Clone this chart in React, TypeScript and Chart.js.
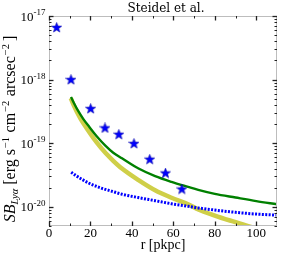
import React, { useEffect, useRef } from 'react';
import { Chart, registerables } from 'chart.js';

Chart.register(...registerables);

// Observed data (stars)
const starR = [3.7, 10.6, 20.1, 27.0, 33.7, 41.0, 48.6, 56.2, 64.1];
const starSB = [6.6e-18, 1.0e-18, 3.5e-19, 1.74e-19, 1.38e-19, 9.9e-20, 5.6e-20, 3.4e-20, 1.9e-20];

// Green solid model
const greenR = [10.6, 12, 14, 16.5, 19.3, 23, 27.3, 31, 35.2, 43.2, 51.2, 59.1, 67.1, 72, 80, 90, 100, 110];
const greenSB = [5.33e-19, 4.3e-19, 3.25e-19, 2.42e-19, 1.83e-19, 1.29e-19, 9.1e-20, 7.1e-20, 5.8e-20, 4.0e-20, 3.04e-20, 2.47e-20, 2.06e-20, 1.85e-20, 1.6e-20, 1.4e-20, 1.23e-20, 1.1e-20];

// Yellow thick model
const yellowR = [10.5, 12, 15, 19.3, 23, 27.3, 31, 35.2, 43.2, 51.2, 59.1, 67.1, 72, 80, 88, 95, 102, 110];
const yellowSB = [5.1e-19, 3.9e-19, 2.5e-19, 1.52e-19, 1.03e-19, 7.0e-20, 5.3e-20, 4.0e-20, 2.63e-20, 1.82e-20, 1.39e-20, 1.1e-20, 9.1e-21, 7.3e-21, 6.0e-21, 5.1e-21, 4.4e-21, 3.8e-21];

// Blue dotted model
const blueR = [10.7, 13, 16, 19.3, 25, 30, 35.2, 43, 51.2, 59, 67.1, 72, 80, 90, 100, 110];
const blueSB = [3.5e-20, 3.1e-20, 2.7e-20, 2.35e-20, 1.98e-20, 1.77e-20, 1.58e-20, 1.4e-20, 1.25e-20, 1.12e-20, 1.02e-20, 9.6e-21, 8.9e-21, 8.2e-21, 7.7e-21, 7.4e-21];

const xTicks = [0, 20, 40, 60, 80, 100];
const xMinorTicks = [10, 30, 50, 70, 90];
const yDecades = [-17, -18, -19, -20];
const titleText = 'Steidel et al.';
const xTitle = 'r [pkpc]';

const pts = (xs: number[], ys: number[]) => xs.map((x, i) => ({ x, y: ys[i] }));

function makeStar(): HTMLCanvasElement {
  const c = document.createElement('canvas');
  c.width = 11;
  c.height = 11;
  const g = c.getContext('2d')!;
  const cx = 5.5, cy = 5.8, R = 5.3, r = 2.2;
  g.beginPath();
  for (let i = 0; i < 10; i++) {
    const ang = -Math.PI / 2 + (i * Math.PI) / 5;
    const rad = i % 2 === 0 ? R : r;
    const px = cx + rad * Math.cos(ang);
    const py = cy + rad * Math.sin(ang);
    if (i === 0) g.moveTo(px, py);
    else g.lineTo(px, py);
  }
  g.closePath();
  g.fillStyle = '#0000ff';
  g.fill();
  g.strokeStyle = '#0000aa';
  g.lineWidth = 0.6;
  g.stroke();
  return c;
}

const decorPlugin = {
  id: 'decor',
  afterDraw(chart: any) {
    const ctx: CanvasRenderingContext2D = chart.ctx;
    const { left, right, top, bottom } = chart.chartArea;
    const xs = chart.scales.x;
    const ys = chart.scales.y;
    ctx.save();
    // frame
    ctx.strokeStyle = '#bdbdbd';
    ctx.lineWidth = 1;
    ctx.strokeRect(left + 0.5, top + 0.5, right - left - 1, bottom - top - 1);

    ctx.strokeStyle = '#222';
    const tickLine = (x1: number, y1: number, x2: number, y2: number, w: number) => {
      ctx.lineWidth = w;
      ctx.beginPath();
      ctx.moveTo(x1, y1);
      ctx.lineTo(x2, y2);
      ctx.stroke();
    };
    xTicks.forEach((v) => {
      const px = Math.round(xs.getPixelForValue(v)) + 0.5;
      tickLine(px, bottom, px, bottom - 4.5, 1.3);
      tickLine(px, top, px, top + 4.5, 1.3);
    });
    xMinorTicks.forEach((v) => {
      const px = Math.round(xs.getPixelForValue(v)) + 0.5;
      tickLine(px, bottom, px, bottom - 2.5, 1);
      tickLine(px, top, px, top + 2.5, 1);
    });
    yDecades.forEach((d) => {
      const py = Math.round(ys.getPixelForValue(Math.pow(10, d))) + 0.5;
      tickLine(left, py, left + 4.5, py, 1.3);
      tickLine(right, py, right - 4.5, py, 1.3);
    });
    for (let d = -21; d <= -18; d++) {
      for (let m = 2; m <= 9; m++) {
        const v = m * Math.pow(10, d);
        if (v < ys.min || v > ys.max) continue;
        const py = Math.round(ys.getPixelForValue(v)) + 0.5;
        tickLine(left, py, left + 2.5, py, 1);
        tickLine(right, py, right - 2.5, py, 1);
      }
    }

    // x tick labels
    ctx.fillStyle = '#000';
    ctx.font = '13px "Liberation Serif", serif';
    ctx.textAlign = 'center';
    ctx.textBaseline = 'alphabetic';
    xTicks.forEach((v) => {
      ctx.fillText(String(v), xs.getPixelForValue(v), 237);
    });

    // y tick labels 10^d
    yDecades.forEach((d) => {
      const py = ys.getPixelForValue(Math.pow(10, d));
      const exp = '-' + String(-d);
      ctx.font = '9px "Liberation Serif", serif';
      const ew = ctx.measureText(exp).width;
      ctx.textAlign = 'left';
      const xEnd = 45.5;
      ctx.fillText(exp, xEnd - ew, py - 1);
      ctx.font = '13px "Liberation Serif", serif';
      const bw = ctx.measureText('10').width;
      ctx.fillText('10', xEnd - ew - bw, py + 4.5);
    });

    // x title
    ctx.font = '14px "Liberation Serif", serif';
    ctx.textAlign = 'center';
    ctx.fillText(xTitle, (left + right) / 2, 249);

    // title
    ctx.font = '12px "DejaVu Serif", serif';
    ctx.fillText(titleText, 166, 12);

    // y title with sub/superscripts
    const runs: { t: string; f: string; dy: number; gap: number }[] = [
      { t: 'SB', f: 'italic 16px "Liberation Serif", serif', dy: 0, gap: 0 },
      { t: 'Lyα', f: 'italic 10.5px "Liberation Serif", serif', dy: 3, gap: 0 },
      { t: '[erg s', f: '16px "Liberation Serif", serif', dy: 0, gap: 4 },
      { t: '−1', f: '10.5px "Liberation Serif", serif', dy: -6.5, gap: 1 },
      { t: 'cm', f: '16px "Liberation Serif", serif', dy: 0, gap: 4.5 },
      { t: '−2', f: '10.5px "Liberation Serif", serif', dy: -6.5, gap: 1 },
      { t: 'arcsec', f: '16px "Liberation Serif", serif', dy: 0, gap: 4.5 },
      { t: '−2', f: '10.5px "Liberation Serif", serif', dy: -6.5, gap: 1 },
      { t: ']', f: '16px "Liberation Serif", serif', dy: 0, gap: 3 },
    ];
    let total = 0;
    const widths = runs.map((r) => {
      ctx.font = r.f;
      const w = ctx.measureText(r.t).width;
      total += r.gap + w;
      return w;
    });
    ctx.translate(15, 129);
    ctx.rotate(-Math.PI / 2);
    ctx.textAlign = 'left';
    let cx = -total / 2;
    runs.forEach((r, i) => {
      cx += r.gap;
      ctx.font = r.f;
      ctx.fillText(r.t, cx, r.dy);
      cx += widths[i];
    });
    ctx.restore();
  },
};

export default function App() {
  const ref = useRef<HTMLCanvasElement | null>(null);
  useEffect(() => {
    if (!ref.current) return;
    const star = makeStar();
    const chart = new Chart(ref.current, {
      type: 'line',
      data: {
        datasets: [
          {
            data: pts(starR, starSB),
            showLine: false,
            pointStyle: star as any,
            pointRadius: 5,
            borderColor: '#0000ff',
            backgroundColor: '#0000ff',
            order: 0,
          },
          {
            data: pts(greenR, greenSB),
            borderColor: '#008000',
            borderWidth: 2.4,
            pointRadius: 0,
            cubicInterpolationMode: 'monotone',
            clip: 0,
            order: 1,
          },
          {
            data: pts(blueR, blueSB),
            borderColor: '#0000ff',
            borderWidth: 3,
            borderDash: [2, 1.4],
            pointRadius: 0,
            cubicInterpolationMode: 'monotone',
            clip: 0,
            order: 2,
          },
          {
            data: pts(yellowR, yellowSB),
            borderColor: 'rgb(207,207,72)',
            borderWidth: 4.5,
            pointRadius: 0,
            cubicInterpolationMode: 'monotone',
            clip: 0,
            order: 3,
          },
        ] as any,
      },
      options: {
        responsive: false,
        animation: false,
        devicePixelRatio: 1,
        layout: { padding: { top: 16, right: 3, left: 0, bottom: 0 } },
        plugins: {
          legend: { display: false },
          tooltip: { enabled: false },
          title: { display: false },
        },
        scales: {
          x: {
            type: 'linear',
            min: 0,
            max: 110,
            grid: { display: false },
            border: { display: false },
            ticks: { display: false },
            afterFit: (s: any) => {
              s.height = 29;
            },
          },
          y: {
            type: 'logarithmic',
            min: 5e-21,
            max: 1e-17,
            grid: { display: false },
            border: { display: false },
            ticks: { display: false },
            afterFit: (s: any) => {
              s.width = 49;
            },
          },
        },
      } as any,
      plugins: [decorPlugin],
    });
    return () => chart.destroy();
  }, []);
  return (
    <div style={{ position: 'absolute', left: 0, top: 0, width: 283, height: 255, background: '#fff' }}>
      <canvas ref={ref} width={283} height={255} style={{ width: 283, height: 255, display: 'block' }} />
    </div>
  );
}
